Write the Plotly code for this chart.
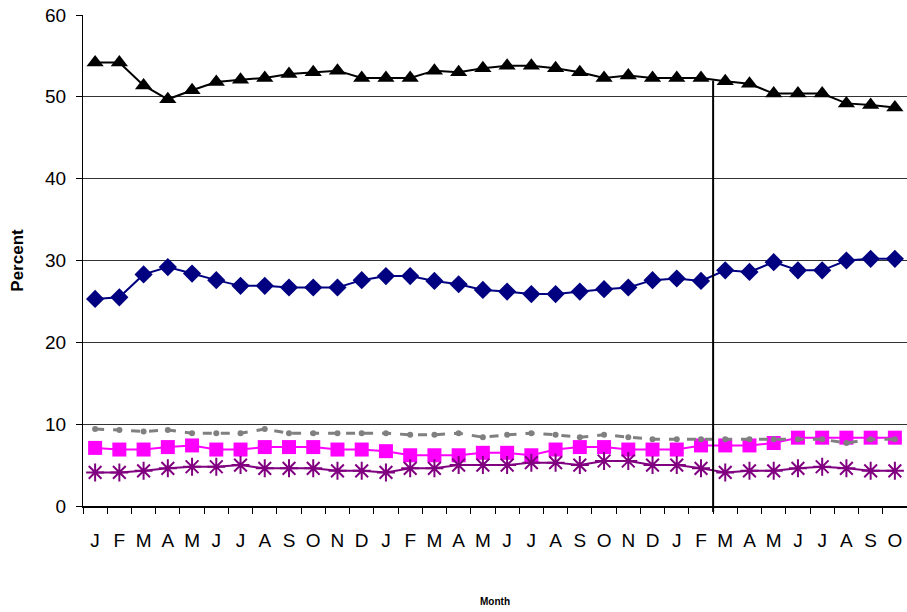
import plotly.graph_objects as go

months = ["J","F","M","A","M","J","J","A","S","O","N","D",
          "J","F","M","A","M","J","J","A","S","O","N","D",
          "J","F","M","A","M","J","J","A","S","O"]

series_triangle = [54.2,54.2,51.4,49.7,50.8,51.8,52.1,52.3,52.8,53.0,53.2,52.3,
                   52.3,52.3,53.2,53.0,53.5,53.8,53.8,53.5,53.0,52.3,52.6,52.3,
                   52.3,52.3,51.9,51.6,50.4,50.4,50.4,49.2,49.0,48.7]
series_diamond = [25.3,25.5,28.3,29.2,28.4,27.6,26.9,26.9,26.7,26.7,26.7,27.6,
                  28.1,28.1,27.5,27.1,26.4,26.2,25.9,25.9,26.2,26.5,26.7,27.6,
                  27.8,27.5,28.8,28.6,29.8,28.8,28.8,30.0,30.2,30.2]
series_circle = [9.4,9.3,9.1,9.3,8.9,8.9,8.9,9.4,8.9,8.9,8.9,8.9,
                 8.9,8.7,8.7,8.9,8.4,8.7,8.9,8.7,8.4,8.7,8.4,8.15,
                 8.15,8.15,8.15,8.15,8.15,8.15,8.15,7.7,8.15,8.15]
series_square = [7.1,6.9,6.9,7.2,7.4,6.9,6.9,7.2,7.2,7.2,6.9,6.9,
                 6.7,6.2,6.2,6.2,6.5,6.5,6.2,6.9,7.2,7.2,6.9,6.9,
                 6.9,7.4,7.4,7.4,7.7,8.35,8.35,8.35,8.35,8.35]
series_asterisk = [4.1,4.1,4.3,4.6,4.8,4.8,5.0,4.6,4.6,4.6,4.3,4.3,
                   4.1,4.6,4.6,5.0,5.0,5.0,5.3,5.3,5.0,5.5,5.5,5.0,
                   5.0,4.6,4.1,4.3,4.3,4.6,4.8,4.6,4.3,4.3]
y_ticks = [0,10,20,30,40,50,60]
divider_x = 25.5
divider_top = 52

x = list(range(len(months)))

fig = go.Figure()
fig.add_trace(go.Scatter(x=x, y=series_diamond, mode="lines+markers",
                         line=dict(color="#000080", width=2),
                         marker=dict(symbol="diamond", size=14, color="#000080")))
fig.add_trace(go.Scatter(x=x, y=series_square, mode="lines+markers",
                         line=dict(color="#FF00FF", width=2),
                         marker=dict(symbol="square", size=14, color="#FF00FF")))
fig.add_trace(go.Scatter(x=x, y=series_triangle, mode="lines+markers",
                         line=dict(color="#000000", width=2),
                         marker=dict(symbol="triangle-up", size=15, color="#000000")))
fig.add_trace(go.Scatter(x=x, y=series_asterisk, mode="lines+markers",
                         line=dict(color="#800080", width=2),
                         marker=dict(symbol="asterisk-open", size=15,
                                     line=dict(color="#800080", width=2))))
fig.add_trace(go.Scatter(x=x, y=series_circle, mode="lines+markers",
                         line=dict(color="#808080", width=3, dash="dash"),
                         marker=dict(symbol="circle", size=6, color="#808080")))

fig.add_shape(type="line", xref="x", yref="paper",
              x0=divider_x, x1=divider_x, y0=-0.012, y1=divider_top/60,
              line=dict(color="black", width=2))

fig.update_layout(
    width=907, height=612,
    margin=dict(l=83, r=0, t=15, b=106),
    paper_bgcolor="white", plot_bgcolor="white",
    showlegend=False,
    font=dict(family="Liberation Sans, Arial, sans-serif", color="black"),
)
fig.update_xaxes(
    range=[-0.5, len(months)-0.5],
    tickvals=x, ticktext=months, ticks="",
    tickfont=dict(size=19), ticklabelstandoff=16,
    showgrid=False, zeroline=False,
    showline=True, linecolor="black", linewidth=2,
    minor=dict(tickvals=[i-0.5 for i in range(len(months)+1)], ticks="outside",
               ticklen=6, tickcolor="black", tickwidth=1, showgrid=False),
    title=dict(text="<b>Month</b>", font=dict(size=10), standoff=48),
)
fig.update_yaxes(
    range=[0, 60], tickvals=y_ticks,
    tickfont=dict(size=19), ticklabelstandoff=6,
    ticks="outside", ticklen=6, tickcolor="black",
    showgrid=True, gridcolor="#333333", gridwidth=1,
    zeroline=False,
    showline=True, linecolor="black", linewidth=1,
    title=dict(text="<b>Percent</b>", font=dict(size=17), standoff=17),
)

fig.write_html("out.html", config={"displayModeBar": False},
               post_script="document.body.style.margin='0px';")
